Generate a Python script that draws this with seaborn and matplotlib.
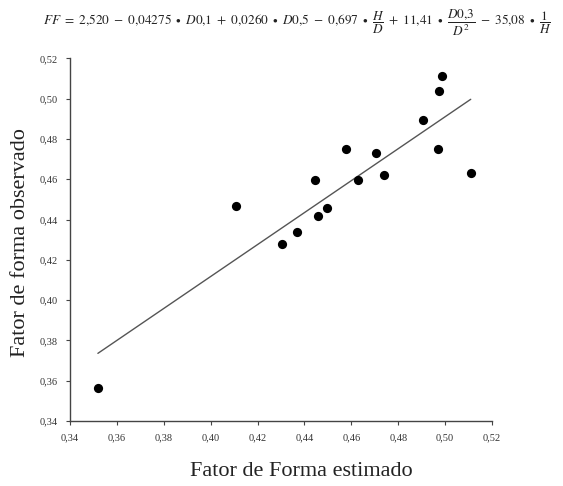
import matplotlib
matplotlib.use("Agg")
import matplotlib.pyplot as plt
import matplotlib.ticker as mticker
import numpy as np
import pandas as pd
import seaborn as sns

# Form factor: estimated vs. observed
ff_estimado = [0.4985, 0.4974, 0.4907, 0.4577, 0.4704, 0.4971, 0.4444, 0.4627,
               0.4741, 0.5109, 0.4498, 0.4458, 0.4109, 0.4367, 0.4303, 0.3519]
ff_observado = [0.5112, 0.5040, 0.4894, 0.4752, 0.4730, 0.4749, 0.4597, 0.4597,
                0.4621, 0.4633, 0.4455, 0.4418, 0.4465, 0.4339, 0.4278, 0.3565]

x_ticks = [0.34, 0.36, 0.38, 0.40, 0.42, 0.44, 0.46, 0.48, 0.50, 0.52]
y_ticks = [0.34, 0.36, 0.38, 0.40, 0.42, 0.44, 0.46, 0.48, 0.50, 0.52]

df = pd.DataFrame({"estimado": ff_estimado, "observado": ff_observado})

sns.set_style("ticks")
plt.rcParams["font.family"] = ["Liberation Serif", "DejaVu Serif"]
plt.rcParams["mathtext.fontset"] = "stix"

fig = plt.figure(figsize=(5.63, 4.86), dpi=100)
ax = fig.add_axes([0.1243, 0.1337, 0.7497, 0.7463])

sns.regplot(data=df, x="estimado", y="observado", ax=ax, ci=None, truncate=True,
            scatter_kws=dict(s=44, color="black", alpha=1, edgecolor="black",
                             linewidths=0, zorder=3),
            line_kws=dict(color="#555555", lw=1.0))

ax.set_xlim(0.34, 0.52)
ax.set_ylim(0.34, 0.52)
ax.set_xticks(x_ticks)
ax.set_yticks(y_ticks)
fmt = mticker.FuncFormatter(lambda v, p: f"{v:.2f}".replace(".", ","))
ax.xaxis.set_major_formatter(fmt)
ax.yaxis.set_major_formatter(fmt)
ax.tick_params(axis="both", labelsize=7.5, length=3, width=0.8, color="#444444",
               labelcolor="#333333", direction="out", pad=6)

for side in ("top", "right"):
    ax.spines[side].set_visible(False)
for side in ("left", "bottom"):
    ax.spines[side].set_color("#444444")
    ax.spines[side].set_linewidth(1.0)

ax.set_xlabel("Fator de Forma estimado", fontsize=16, color="#222222", labelpad=14)
ax.set_ylabel("Fator de forma observado", fontsize=16, color="#222222", labelpad=7)
ax.xaxis.label.set_x(0.547)
ax.yaxis.label.set_y(0.493)

eq = (r"$FF\ =\ 2{,}520\ -\ 0{,}04275\ \bullet\ D0{,}1\ +\ 0{,}0260\ \bullet\ D0{,}5"
      r"\ -\ 0{,}697\ \bullet\ \dfrac{H}{D}\ +\ 11{,}41\ \bullet\ \dfrac{D0{,}3}{D^2}"
      r"\ -\ 35{,}08\ \bullet\ \dfrac{1}{H}$")
fig.text(0.528, 0.953, eq, ha="center", va="center", fontsize=9.5, color="#222222")

fig.savefig("out.png", dpi=100, facecolor="white")
